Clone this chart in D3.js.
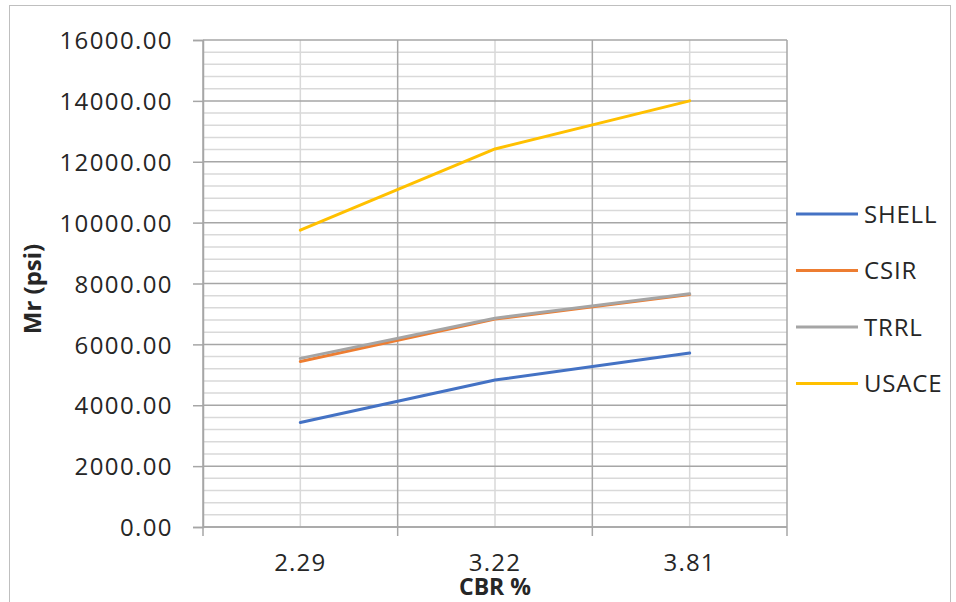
<!DOCTYPE html>
<html>
<head>
<meta charset="utf-8">
<script src="https://cdn.jsdelivr.net/npm/d3@7/dist/d3.min.js"></script>
<style>
  html, body { margin: 0; padding: 0; background: #ffffff; }
  svg { display: block; }
  text { font-family: "Open Sans", "DejaVu Sans", sans-serif; fill: #262626; }
</style>
</head>
<body>
<svg id="chart" width="956" height="602"></svg>
<script>
// CBR values on the category axis
const categories = ["2.29", "3.22", "3.81"];

// Resilient modulus (psi) by correlation method
const shell = [3435, 4830, 5715];
const csir  = [5440, 6830, 7640];
const trrl  = [5540, 6860, 7660];
const usace = [9750, 12420, 14000];

const seriesNames  = ["SHELL", "CSIR", "TRRL", "USACE"];
const seriesValues = [shell, csir, trrl, usace];
const seriesColors = ["#4472C4", "#ED7D31", "#A5A5A5", "#FFC000"];

// Y axis ticks
const yMajorTicks = [0, 2000, 4000, 6000, 8000, 10000, 12000, 14000, 16000];
const yMinorStep = 400;

const svg = d3.select("#chart");
const plot = { left: 203, right: 787, top: 40, bottom: 527 };

// Outer chart frame
svg.append("rect")
  .attr("x", 9.5).attr("y", 5.5)
  .attr("width", 941).attr("height", 610)
  .attr("fill", "#ffffff")
  .attr("stroke", "#bfbfbf").attr("stroke-width", 1);

const x = d3.scaleBand()
  .domain(categories)
  .range([plot.left, plot.right])
  .paddingInner(0).paddingOuter(0);

const y = d3.scaleLinear()
  .domain([0, 16000])
  .range([plot.bottom, plot.top]);

const g = svg.append("g");

// Minor horizontal gridlines
const minorVals = d3.range(0, 16000 + 1, yMinorStep).filter(v => v % 2000 !== 0);
g.append("g").selectAll("line").data(minorVals).join("line")
  .attr("x1", plot.left).attr("x2", plot.right)
  .attr("y1", d => y(d)).attr("y2", d => y(d))
  .attr("stroke", "#d9d9d9").attr("stroke-width", 1.5);

// Minor vertical gridlines at category centres
g.append("g").selectAll("line").data(categories).join("line")
  .attr("x1", d => x(d) + x.bandwidth() / 2).attr("x2", d => x(d) + x.bandwidth() / 2)
  .attr("y1", plot.top).attr("y2", plot.bottom)
  .attr("stroke", "#d9d9d9").attr("stroke-width", 1.5);

// Major horizontal gridlines
g.append("g").selectAll("line").data(yMajorTicks).join("line")
  .attr("x1", plot.left).attr("x2", plot.right)
  .attr("y1", d => y(d)).attr("y2", d => y(d))
  .attr("stroke", "#a6a6a6").attr("stroke-width", 1.5);

// Major vertical gridlines at category boundaries
const boundaries = categories.map(c => x(c)).concat([plot.right]);
g.append("g").selectAll("line").data(boundaries).join("line")
  .attr("x1", d => d).attr("x2", d => d)
  .attr("y1", plot.top).attr("y2", plot.bottom)
  .attr("stroke", "#a6a6a6").attr("stroke-width", 1.5);

// Y axis
const yAxis = d3.axisLeft(y)
  .tickValues(yMajorTicks)
  .tickSize(10)
  .tickPadding(20)
  .tickFormat(d3.format(".2f"));
const yG = svg.append("g")
  .attr("transform", `translate(${plot.left},0)`)
  .call(yAxis);
yG.select(".domain").attr("stroke", "#a6a6a6").attr("stroke-width", 1.5);
yG.selectAll(".tick line").attr("stroke", "#a6a6a6").attr("stroke-width", 1.5);
yG.selectAll(".tick text")
  .attr("font-size", 24)
  .attr("letter-spacing", 1.4)
  .attr("dy", "0.36em")
  .style("font-family", "'Open Sans', sans-serif")
  .attr("fill", "#1f1f1f");

// X axis (category labels centred in bands, ticks at band edges)
const xAxisG = svg.append("g")
  .attr("transform", `translate(0,${plot.bottom})`);
xAxisG.append("line")
  .attr("x1", plot.left).attr("x2", plot.right)
  .attr("stroke", "#a6a6a6").attr("stroke-width", 1.5);
xAxisG.selectAll("line.tick").data(boundaries).join("line")
  .attr("class", "tick")
  .attr("x1", d => d).attr("x2", d => d)
  .attr("y1", 0).attr("y2", 9)
  .attr("stroke", "#a6a6a6").attr("stroke-width", 1.5);
xAxisG.selectAll("text.cat").data(categories).join("text")
  .attr("class", "cat")
  .attr("x", d => x(d) + x.bandwidth() / 2)
  .attr("y", 44)
  .attr("text-anchor", "middle")
  .attr("font-size", 24)
  .attr("letter-spacing", 1.2)
  .attr("fill", "#1f1f1f")
  .text(d => d);

// Axis titles
svg.append("text")
  .attr("x", 495).attr("y", 595)
  .attr("text-anchor", "middle")
  .attr("font-size", 23)
  .attr("font-weight", "bold")
  .attr("fill", "#0d0d0d")
  .text("CBR %");

svg.append("text")
  .attr("transform", "translate(41,289) rotate(-90)")
  .attr("text-anchor", "middle")
  .attr("font-size", 24)
  .attr("font-weight", "bold")
  .attr("fill", "#0d0d0d")
  .text("Mr (psi)");

// Series lines
const line = d3.line()
  .x((d, i) => x(categories[i]) + x.bandwidth() / 2)
  .y(d => y(d));

svg.append("g").selectAll("path").data(seriesValues).join("path")
  .attr("d", d => line(d))
  .attr("fill", "none")
  .attr("stroke", (d, i) => seriesColors[i])
  .attr("stroke-width", 3)
  .attr("stroke-linecap", "round")
  .attr("stroke-linejoin", "round");

// Legend
const legend = svg.append("g");
const legendItems = legend.selectAll("g").data(seriesNames).join("g")
  .attr("transform", (d, i) => `translate(796,${214 + i * 56.5})`);
legendItems.append("line")
  .attr("x1", 0).attr("x2", 62)
  .attr("stroke", (d, i) => seriesColors[i])
  .attr("stroke-width", 3);
legendItems.append("text")
  .attr("x", 68).attr("dy", "0.36em")
  .attr("font-size", 24)
  .attr("letter-spacing", 0.8)
  .attr("fill", "#1f1f1f")
  .text(d => d);
</script>
</body>
</html>
